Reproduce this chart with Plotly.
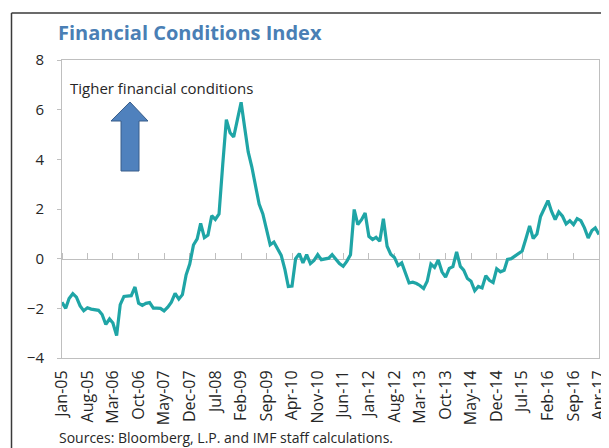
import pandas as pd
import plotly.graph_objects as go

# --- Data: monthly FCI, Jan-05 .. Apr-17 ---
start_month = "2005-01-01"
fci = [
    -1.76, -2.00, -1.60, -1.41, -1.55, -1.90, -2.10, -1.98, -2.03, -2.07,
    -2.08, -2.25, -2.65, -2.43, -2.59, -3.10, -1.85, -1.52, -1.52, -1.49,
    -1.14, -1.79, -1.88, -1.80, -1.77, -1.99, -1.99, -2.00, -2.10, -1.95,
    -1.75, -1.40, -1.63, -1.45, -0.65, -0.22, 0.55, 0.80, 1.42, 0.85,
    0.95, 1.73, 1.58, 1.80, 3.80, 5.60, 5.07, 4.90, 5.60, 6.30,
    5.33, 4.30, 3.70, 3.00, 2.20, 1.80, 1.20, 0.56, 0.67, 0.40,
    0.13, -0.44, -1.12, -1.10, 0.00, 0.20, -0.17, 0.16, -0.20, -0.07,
    0.16, -0.04, 0.00, 0.02, 0.16, -0.04, -0.20, -0.31, -0.11, 0.16,
    1.98, 1.37, 1.57, 1.84, 0.90, 0.77, 0.86, 0.70, 1.61, 0.50,
    0.18, 0.05, -0.28, -0.17, -0.58, -0.98, -0.95, -1.00, -1.08, -1.20,
    -0.91, -0.22, -0.35, -0.05, -0.53, -0.74, -0.39, -0.32, 0.27, -0.31,
    -0.46, -0.80, -0.91, -1.29, -1.12, -1.18, -0.69, -0.87, -0.96, -0.41,
    -0.53, -0.47, -0.03, 0.00, 0.10, 0.20, 0.31, 0.80, 1.32, 0.81,
    0.99, 1.70, 2.02, 2.34, 1.91, 1.57, 1.88, 1.71, 1.40, 1.53,
    1.37, 1.61, 1.53, 1.24, 0.83, 1.13, 1.24, 0.97,
]
dates = pd.date_range(start_month, periods=len(fci), freq="MS")

tick_labels = ["Jan-05", "Aug-05", "Mar-06", "Oct-06", "May-07", "Dec-07", "Jul-08",
               "Feb-09", "Sep-09", "Apr-10", "Nov-10", "Jun-11", "Jan-12", "Aug-12",
               "Mar-13", "Oct-13", "May-14", "Dec-14", "Jul-15", "Feb-16", "Sep-16",
               "Apr-17"]
tick_vals = list(dates[::7])

# --- Geometry (pixels of the 609x448 page; the page body adds an 8px margin) ---
OFF = 8
W, H = 609 - OFF, 448 - OFF
PL, PR, PT, PB = 62, 599, 60, 358          # plot area in page pixels
L, T = PL - OFF, PT - OFF
R, B = W - (PR - OFF), H - (PB - OFF)
pw, ph = PR - PL, PB - PT

def px(x):
    return (x - PL) / pw

def py(y):
    return (PB - y) / ph

FONT = "Open Sans"
TXT = "#262626"
AXIS_GRAY = "#bfbfbf"

fig = go.Figure()
fig.add_trace(go.Scatter(x=dates, y=fci, mode="lines",
                         line=dict(color="#1fa5a6", width=3.2), showlegend=False,
                         hoverinfo="x+y"))
# invisible trace to activate the zero-line axis
fig.add_trace(go.Scatter(x=[dates[0]], y=[0], xaxis="x2", mode="markers",
                         marker=dict(opacity=0), showlegend=False, hoverinfo="skip"))

xrange = [dates[0], dates[-1]]

fig.update_layout(
    width=W, height=H,
    margin=dict(l=L, r=R, t=T, b=B, autoexpand=False),
    paper_bgcolor="white", plot_bgcolor="white",
    font=dict(family=FONT, color=TXT),
    xaxis=dict(range=xrange, tickvals=tick_vals, ticktext=tick_labels,
               tickangle=-90, ticks="", showgrid=False, zeroline=False,
               showline=True, mirror=True, linecolor=AXIS_GRAY, linewidth=1,
               tickfont=dict(size=16, family=FONT, color=TXT),
               ticklabelstandoff=5, ticklabeloverflow="allow"),
    xaxis2=dict(range=xrange, tickvals=tick_vals, overlaying="x", anchor="free",
                position=4 / 12, side="top", ticks="outside", ticklen=6,
                tickcolor=AXIS_GRAY, showticklabels=False, showgrid=False,
                zeroline=False, showline=True, linecolor=AXIS_GRAY,
                layer="below traces"),
    yaxis=dict(range=[-4, 8], dtick=2, showgrid=False, zeroline=False,
               showline=True, mirror=True, linecolor=AXIS_GRAY, ticks="outside",
               ticklen=4, tickcolor=AXIS_GRAY,
               tickfont=dict(size=15, family=FONT, color=TXT),
               ticklabelstandoff=10),
)

# Title
fig.add_annotation(text="<b>Financial Conditions Index</b>", xref="paper", yref="paper",
                   x=px(56), y=py(33), xanchor="left", yanchor="middle",
                   showarrow=False, font=dict(size=20, family=FONT, color="#4a7fb5"))

# Inset label + arrow
fig.add_annotation(text="Tigher financial conditions", xref="paper", yref="paper",
                   x=px(68), y=py(88), xanchor="left", yanchor="middle",
                   showarrow=False, font=dict(size=15, family=FONT, color=TXT))

arrow = [(130, 102), (148, 121), (139, 121), (139, 171), (121, 171), (121, 121), (111, 121)]
path = "M " + " L ".join(f"{px(x):.4f},{py(y):.4f}" for x, y in arrow) + " Z"
fig.add_shape(type="path", path=path, xref="paper", yref="paper",
              fillcolor="#4f81bd", line=dict(color="#385d8a", width=1))

# Sources
fig.add_annotation(text="Sources: Bloomberg, L.P. and IMF staff calculations.",
                   xref="paper", yref="paper", x=px(57), y=py(449),
                   xanchor="left", yanchor="bottom", showarrow=False,
                   font=dict(size=14, family=FONT, color=TXT))

# Outer frame (top and left edges visible)
fig.add_shape(type="line", xref="paper", yref="paper",
              x0=px(11.5), x1=px(615), y0=py(13), y1=py(13),
              line=dict(color="#3a3a3a", width=1.5))
fig.add_shape(type="line", xref="paper", yref="paper",
              x0=px(11.5), x1=px(11.5), y0=py(13), y1=py(455),
              line=dict(color="#3a3a3a", width=1.5))

fig.write_html("out.html")
